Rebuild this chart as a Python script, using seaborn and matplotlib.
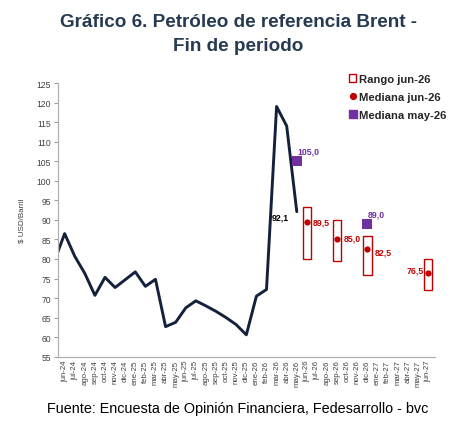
import numpy as np
import pandas as pd
import matplotlib
matplotlib.use("Agg")
import matplotlib.pyplot as plt
from matplotlib.lines import Line2D
from matplotlib.patches import Rectangle
import seaborn as sns

# DATA ===========================================================================================================

months = ["jun-24", "jul-24", "ago-24", "sep-24", "oct-24", "nov-24", "dic-24",
          "ene-25", "feb-25", "mar-25", "abr-25", "may-25", "jun-25", "jul-25", "ago-25", "sep-25", "oct-25", "nov-25", "dic-25",
          "ene-26", "feb-26", "mar-26", "abr-26", "may-26", "jun-26", "jul-26", "ago-26", "sep-26", "oct-26", "nov-26", "dic-26",
          "ene-27", "feb-27", "mar-27", "abr-27", "may-27", "jun-27"]

# observed Brent, end of month (first value is may-24, just left of the axis)
brent_months = ["may-24"] + months[:24]
brent_values = [79.5, 86.5, 80.7, 76.3, 70.7, 75.3, 72.7, 74.7, 76.7, 73.0, 74.8, 62.7, 63.8,
                67.5, 69.3, 68.0, 66.6, 65.0, 63.2, 60.6, 70.5, 72.2, 119.0, 114.0, 92.1]

# survey jun-26: range and median
range_months = ["jun-26", "sep-26", "dic-26", "jun-27"]
range_low = [80.0, 79.5, 76.0, 72.0]
range_high = [93.3, 90.0, 86.0, 80.0]
median_jun = [89.5, 85.0, 82.5, 76.5]

# survey may-26: median
may_months = ["may-26", "dic-26"]
median_may = [105.0, 89.0]

# STYLE ==========================================================================================================

NAVY = "#14213D"
RED = "#C00000"
PURPLE = "#7030A0"
TITLE_COL = "#263A52"

sns.set_style("white")
plt.rcParams["font.family"] = ["Liberation Sans", "DejaVu Sans"]

idx = {m: i for i, m in enumerate(months)}
idx["may-24"] = -1

brent = pd.DataFrame({"x": [idx[m] for m in brent_months], "value": brent_values})
jun = pd.DataFrame({"x": [idx[m] for m in range_months], "low": range_low, "high": range_high, "median": median_jun})
may = pd.DataFrame({"x": [idx[m] for m in may_months], "median": median_may})

fig = plt.figure(figsize=(4.76, 4.31), dpi=100)
ax = fig.add_axes([0.122, 0.170, 0.792, 0.635])

sns.lineplot(data=brent, x="x", y="value", ax=ax, color=NAVY, linewidth=2.1, solid_joinstyle="round")
ax.bar(jun["x"], jun["high"] - jun["low"], bottom=jun["low"], width=0.82, fill=False,
       edgecolor=RED, linewidth=1.0)
sns.scatterplot(data=jun, x="x", y="median", ax=ax, color=RED, s=20, edgecolor=RED, linewidth=0, zorder=5)
sns.scatterplot(data=may, x="x", y="median", ax=ax, color=PURPLE, marker="s", s=44, edgecolor=PURPLE,
                linewidth=0, zorder=5)

# labels
lab = dict(fontsize=6.3, fontweight="bold", textcoords="offset points")
ax.annotate("92,1", (brent["x"].iloc[-1], brent["value"].iloc[-1]), xytext=(-6, -4), ha="right", va="center",
            color="black", **lab)
offsets = [((4, 0), "left"), ((5, 1), "left"), ((5, -2), "left"), ((-3, 2), "right")]
for (x, y), (off, ha) in zip(zip(jun["x"], jun["median"]), offsets):
    ax.annotate(f"{y:.1f}".replace(".", ","), (x, y), xytext=off, ha=ha, va="center", color=RED, **lab)
for x, y in zip(may["x"], may["median"]):
    ax.annotate(f"{y:.1f}".replace(".", ","), (x, y), xytext=(0.5, 4), ha="left", va="bottom", color=PURPLE, **lab)

ax.set_xlim(-0.65, 36.7)
ax.set_ylim(55, 125)
ax.set_yticks(np.arange(55, 126, 5))
ax.set_xticks(range(len(months)))
ax.set_xticklabels(months, rotation=90, fontsize=5.6, color="#404040")
ax.tick_params(axis="y", labelsize=6.2, labelcolor="#404040", length=3, color="#A0A0A0", left=True, pad=2)
ax.tick_params(axis="x", length=0, pad=2)
ax.set_xlabel("")
ax.set_ylabel("$ USD/Barril", fontsize=5.8, color="#404040", labelpad=8)
sns.despine(ax=ax)
for s in ["left", "bottom"]:
    ax.spines[s].set_color("#B0B0B0")
    ax.spines[s].set_linewidth(0.9)

handles = [Rectangle((0, 0), 1, 1, fill=False, edgecolor=RED, linewidth=1.0),
           Line2D([], [], marker="o", color=RED, linestyle="", markersize=4.2),
           Line2D([], [], marker="s", color=PURPLE, linestyle="", markersize=5.5)]
leg = ax.legend(handles, ["Rango jun-26", "Mediana jun-26", "Mediana may-26"], loc="upper left",
                bbox_to_anchor=(0.76, 1.05), frameon=False, prop={"weight": "bold", "size": 8.1},
                handlelength=0.65, handleheight=0.65, handletextpad=0.25, labelspacing=0.7, borderaxespad=0)

fig.text(0.5, 0.947, "Gráfico 6. Petróleo de referencia Brent -", ha="center", va="center",
         fontsize=13.6, fontweight="bold", color=TITLE_COL)
fig.text(0.5, 0.893, "Fin de periodo", ha="center", va="center", fontsize=13.6, fontweight="bold", color=TITLE_COL)
fig.text(0.5, 0.051, "Fuente: Encuesta de Opinión Financiera, Fedesarrollo - bvc", ha="center", va="center",
         fontsize=10.4, color="black")

plt.savefig("out.png", dpi=100)
